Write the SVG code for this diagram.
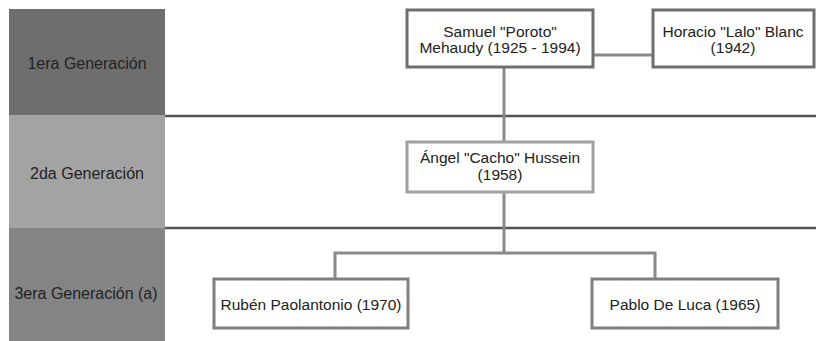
<svg xmlns="http://www.w3.org/2000/svg" width="816" height="341" viewBox="0 0 816 341">
<style>
text{font-family:"Liberation Sans",Arial,sans-serif;font-size:15.5px;fill:#222;text-anchor:middle}
.lbl{font-size:16px}
.box{fill:#fff;stroke-width:3}
.con{fill:none;stroke:#8a8a8a;stroke-width:3}
.band{stroke:#555;stroke-width:2.5}
</style>
<rect width="816" height="341" fill="#fff"/>
<g id="band1"><rect x="9" y="9" width="156" height="106" fill="#6e6e6e"/><text class="lbl" x="87" y="69">1era Generación</text></g>
<g id="band2"><rect x="9" y="115" width="156" height="113" fill="#a3a3a3"/><text class="lbl" x="87" y="179">2da Generación</text></g>
<g id="band3"><rect x="9" y="228" width="156" height="113" fill="#848484"/><text class="lbl" x="86" y="299">3era Generación (a)</text></g>
<g id="connectors">
<line class="band" x1="165" y1="116" x2="816" y2="116"/>
<line class="band" x1="165" y1="228" x2="816" y2="228"/>
<line class="con" x1="593" y1="55" x2="653" y2="55"/>
<line class="con" x1="504" y1="67" x2="504" y2="142"/>
<line class="con" x1="504" y1="192" x2="504" y2="253"/>
<polyline class="con" points="335,278 335,253 655,253 655,278"/>
</g>
<g id="samuel"><rect class="box" x="407" y="10" width="186" height="57" stroke="#6e6e6e"/><text x="500" y="37">Samuel "Poroto"</text><text x="500" y="53">Mehaudy (1925 - 1994)</text></g>
<g id="horacio"><rect class="box" x="653" y="10" width="161" height="57" stroke="#6e6e6e"/><text x="733" y="37">Horacio "Lalo" Blanc</text><text x="733" y="53">(1942)</text></g>
<g id="angel"><rect class="box" x="407" y="142" width="186" height="50" stroke="#a0a0a0"/><text x="500" y="163">Ángel "Cacho" Hussein</text><text x="500" y="180">(1958)</text></g>
<g id="ruben"><rect class="box" x="214" y="279" width="194" height="49" stroke="#7f7f7f"/><text x="311" y="310">Rubén Paolantonio (1970)</text></g>
<g id="pablo"><rect class="box" x="592" y="279" width="186" height="49" stroke="#7f7f7f"/><text x="685" y="310">Pablo De Luca (1965)</text></g>
</svg>
